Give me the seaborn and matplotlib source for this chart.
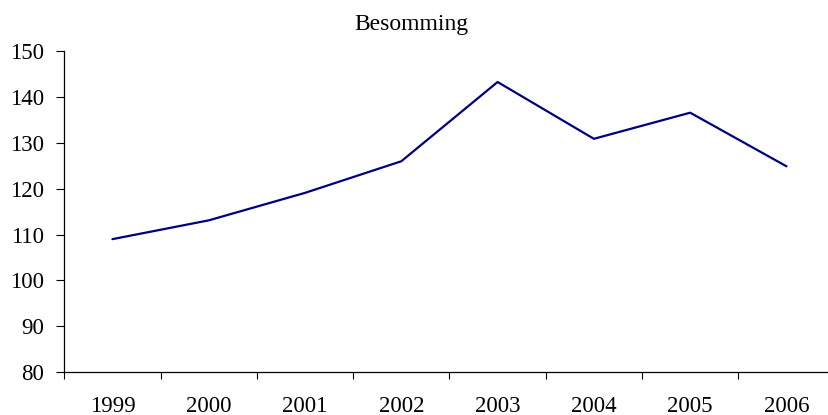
import matplotlib
matplotlib.use("Agg")
import matplotlib.pyplot as plt
import seaborn as sns
import pandas as pd
import numpy as np
from matplotlib.ticker import FixedLocator

years = ["1999", "2000", "2001", "2002", "2003", "2004", "2005", "2006"]
besomming = [109.0, 113.1, 119.1, 126.0, 143.3, 130.9, 136.6, 124.9]
title = "Besomming"
y_ticks = [80, 90, 100, 110, 120, 130, 140, 150]

sns.set_theme(style="white")
plt.rcParams["font.family"] = ["Liberation Serif", "DejaVu Serif"]

df = pd.DataFrame({"year": years, "value": besomming})

fig = plt.figure(figsize=(8.29, 4.15), dpi=100)
ax = fig.add_axes([64.3 / 829, 1 - 372 / 415, (834.6 - 64.3) / 829, (372 - 51.3) / 415])
sns.lineplot(data=df, x="year", y="value", ax=ax, color="#000080", linewidth=1.6, sort=False)

ax.set_xlim(-0.5, len(years) - 0.5)
ax.set_ylim(80, 150)
ax.set_yticks(y_ticks)
ax.set_yticklabels([str(v) for v in y_ticks])
ax.set_xticks(range(len(years)))
ax.set_xticklabels(years)
ax.xaxis.set_minor_locator(FixedLocator(np.arange(-0.5, len(years) + 0.5, 1)))

ax.set_xlabel("")
ax.set_ylabel("")
ax.set_title(title, fontsize=17, color="black", pad=15.5, x=0.45)

for s in ["top", "right"]:
    ax.spines[s].set_visible(False)
for s in ["left", "bottom"]:
    ax.spines[s].set_color("black")
    ax.spines[s].set_linewidth(0.9)

ax.tick_params(axis="y", which="major", length=5.8, width=0.8, color="black",
               direction="out", left=True, pad=9, labelsize=16.5, labelcolor="black")
ax.tick_params(axis="x", which="major", length=0, pad=17, labelsize=16.5, labelcolor="black")
ax.tick_params(axis="x", which="minor", length=5, width=0.8, color="black",
               direction="out", bottom=True)

fig.savefig("out.png", dpi=100)
